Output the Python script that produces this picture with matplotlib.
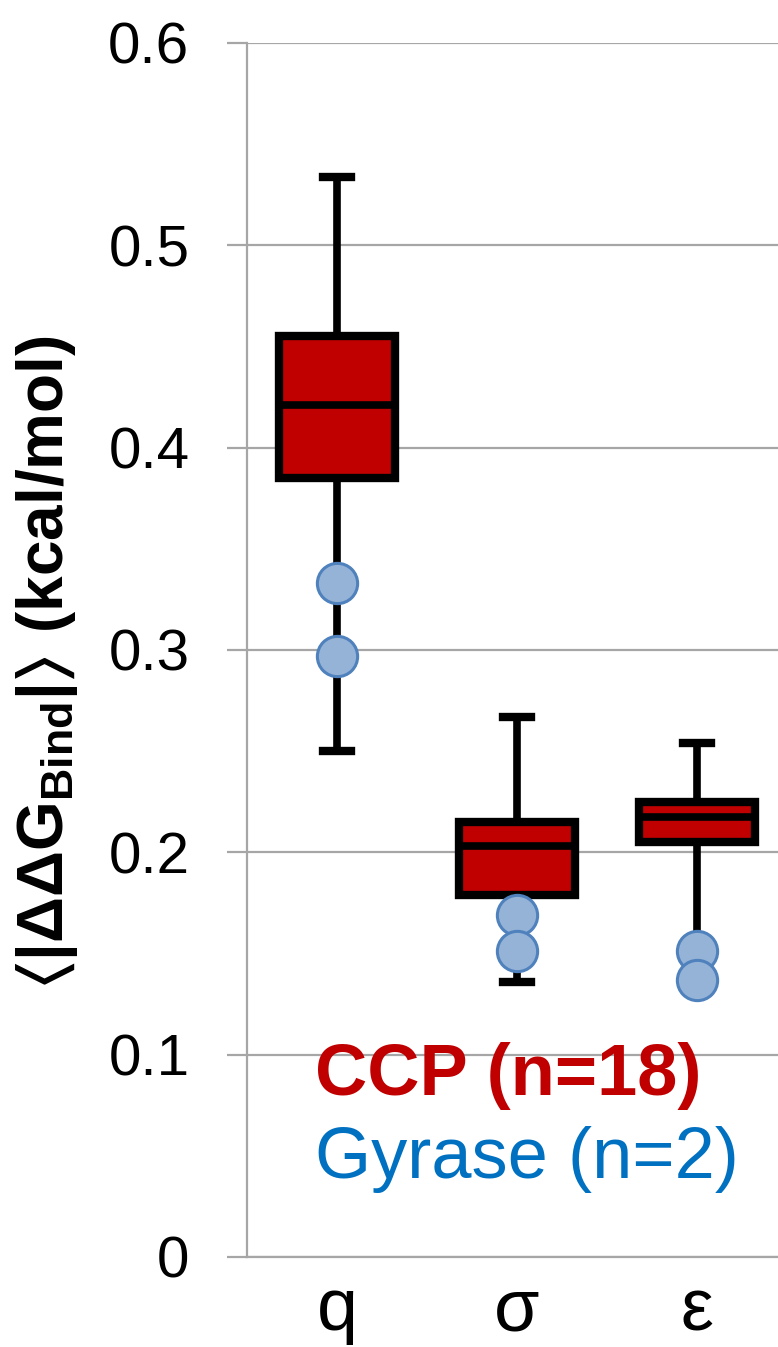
import matplotlib
matplotlib.use('Agg')
import matplotlib.pyplot as plt

plt.rcParams['font.family'] = ['Liberation Sans', 'DejaVu Sans']
plt.rcParams['mathtext.fontset'] = 'custom'
plt.rcParams['mathtext.rm'] = 'Liberation Sans'
plt.rcParams['mathtext.bf'] = 'Liberation Sans:bold'
plt.rcParams['mathtext.fallback'] = 'stixsans'

# box stats for the CCP set
categories = ['q', 'σ', 'ε']
ccp_low = [0.250, 0.136, 0.151]
ccp_q1 = [0.385, 0.179, 0.205]
ccp_med = [0.421, 0.203, 0.2175]
ccp_q3 = [0.455, 0.215, 0.225]
ccp_high = [0.534, 0.267, 0.254]

# gyrase points (two per category)
gyr_a = [0.333, 0.169, 0.151]
gyr_b = [0.297, 0.151, 0.137]

yticks = [0, 0.1, 0.2, 0.3, 0.4, 0.5, 0.6]
ytick_labels = ['0', '0.1', '0.2', '0.3', '0.4', '0.5', '0.6']

grey = '#a6a6a6'

fig = plt.figure(figsize=(7.78, 13.47), dpi=100)
ax = fig.add_axes([247/778, (1347-1257)/1347, 1 - 247/778, (1257-43)/1347])

pos = [1, 2, 3]
stats = []
for i in range(3):
    stats.append({'whislo': ccp_low[i], 'q1': ccp_q1[i], 'med': ccp_med[i],
                  'q3': ccp_q3[i], 'whishi': ccp_high[i], 'fliers': []})

ax.bxp(stats, positions=pos, widths=0.64, capwidths=0.16, patch_artist=True,
       showfliers=False,
       boxprops=dict(facecolor='#c00000', edgecolor='black', linewidth=6),
       medianprops=dict(color='black', linewidth=5.5),
       whiskerprops=dict(color='black', linewidth=5.5),
       capprops=dict(color='black', linewidth=6),
       zorder=3)

for vals in (gyr_a, gyr_b):
    ax.plot(pos, vals, 'o', ms=29, mfc='#95b3d7', mec='#4f81bd', mew=2.2,
            linestyle='none', zorder=4)

ax.set_xlim(0.5, 3.45)
ax.set_ylim(0, 0.6)
ax.set_yticks(yticks)
ax.set_yticklabels(ytick_labels)
ax.set_xticks(pos)
ax.set_xticklabels(categories)

ax.grid(axis='y', color=grey, linewidth=1.6, zorder=0)
ax.set_axisbelow(True)
for s in ['top', 'right']:
    ax.spines[s].set_visible(False)
for s in ['left', 'bottom']:
    ax.spines[s].set_color(grey)
    ax.spines[s].set_linewidth(1.6)

ax.tick_params(axis='y', length=14.4, width=1.6, color=grey, labelsize=42, pad=27)
ax.tick_params(axis='x', length=0, labelsize=53, pad=14)

ax.set_ylabel(r'$\mathbf{\langle|\Delta\Delta G_{Bind}|\rangle\ (kcal/mol)}$', fontsize=46)
ax.yaxis.set_label_coords((80-247)/531, 0.49)

fig.text(315/778, (1347-1095)/1347, 'CCP (n=18)', color='#c00000', fontsize=52,
         fontweight='bold', va='baseline', ha='left')
fig.text(315/778, (1347-1178)/1347, 'Gyrase (n=2)', color='#0070c0', fontsize=52,
         va='baseline', ha='left')

fig.savefig('out.png', dpi=100)
